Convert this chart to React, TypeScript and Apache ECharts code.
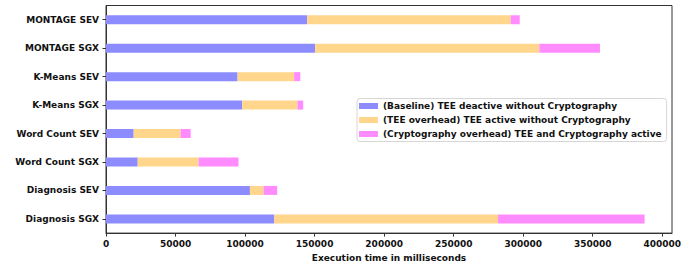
import React, { useEffect, useRef } from "react";
import * as echarts from "echarts";

// Categories listed bottom-to-top (ECharts category y axis starts at bottom)
const categories = [
  "Diagnosis SGX",
  "Diagnosis SEV",
  "Word Count SGX",
  "Word Count SEV",
  "K-Means SGX",
  "K-Means SEV",
  "MONTAGE SGX",
  "MONTAGE SEV",
];

// Baseline: TEE deactive without cryptography (ms)
const baseline = [121000, 103500, 22800, 19900, 98000, 94600, 150400, 144700];
// TEE overhead (active TEE, no crypto) additional ms
const teeOverhead = [160900, 9800, 43800, 33800, 39700, 40700, 161200, 146300];
// Cryptography overhead additional ms
const cryptoOverhead = [105400, 9800, 28700, 7200, 4100, 4400, 43600, 6500];

const seriesNames = [
  "(Baseline) TEE deactive without Cryptography",
  "(TEE overhead) TEE active without Cryptography",
  "(Cryptography overhead) TEE and Cryptography active",
];

const colors = ["#8c8cff", "#ffd68c", "#ff8cff"];
const FONT = "DejaVu Sans";

export default function App() {
  const ref = useRef<HTMLDivElement>(null);
  useEffect(() => {
    if (!ref.current) return;
    const chart = echarts.init(ref.current, null, { renderer: "svg" });
    const dataSets = [baseline, teeOverhead, cryptoOverhead];
    chart.setOption({
      animation: false,
      backgroundColor: "#ffffff",
      textStyle: { fontFamily: FONT },
      grid: {
        left: 106,
        right: 25,
        top: 5.5,
        bottom: 33,
        show: true,
        borderColor: "#333",
        borderWidth: 1,
        backgroundColor: "transparent",
      },
      legend: {
        orient: "vertical",
        left: 357,
        top: 98.5,
        padding: [2, 5, 2, 2],
        itemWidth: 19,
        itemHeight: 6,
        itemGap: 3,
        icon: "rect",
        backgroundColor: "#ffffff",
        borderColor: "#d6d6d6",
        borderWidth: 1,
        borderRadius: 3,
        textStyle: {
          fontFamily: FONT,
          fontWeight: "bold",
          fontSize: 9,
          lineHeight: 11,
          color: "#111",
        },
        data: seriesNames,
      },
      xAxis: {
        type: "value",
        min: 0,
        max: 407000,
        interval: 50000,
        name: "Execution time in milliseconds",
        nameLocation: "middle",
        nameGap: 19,
        nameTextStyle: {
          fontFamily: FONT,
          fontWeight: "bold",
          fontSize: 9,
          color: "#111",
        },
        axisLine: { show: true, lineStyle: { color: "#333", width: 1 } },
        axisTick: { show: true, length: 3.5, lineStyle: { color: "#333" } },
        splitLine: { show: false },
        axisLabel: {
          fontFamily: FONT,
          fontWeight: "bold",
          fontSize: 9,
          color: "#111",
          margin: 6,
          showMaxLabel: false,
          formatter: (v: number) => (v % 50000 === 0 ? String(v) : ""),
        },
      },
      yAxis: {
        type: "category",
        data: categories,
        axisLine: { show: true, lineStyle: { color: "#333", width: 1 } },
        axisTick: {
          show: true,
          alignWithLabel: true,
          length: 3.5,
          lineStyle: { color: "#333" },
        },
        axisLabel: {
          fontFamily: FONT,
          fontWeight: "bold",
          fontSize: 9,
          color: "#111",
          margin: 7,
        },
      },
      series: seriesNames.map((name, i) => ({
        name,
        type: "bar",
        stack: "total",
        barWidth: 9,
        itemStyle: { color: colors[i] },
        data: dataSets[i],
      })),
    });
    return () => chart.dispose();
  }, []);
  return (
    <div
      ref={ref}
      style={{ position: "fixed", left: 0, top: 0, width: 697, height: 267 }}
    />
  );
}
